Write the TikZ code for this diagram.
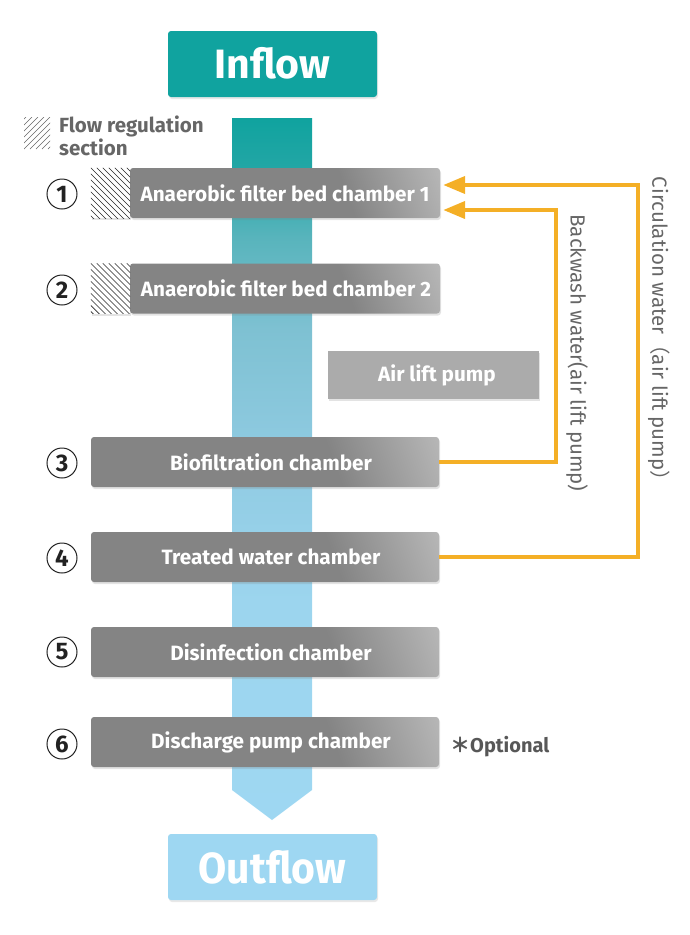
\documentclass[tikz,border=0pt]{standalone}
\usepackage{fontspec}
\setmainfont{Fira Sans}
\newfontfamily\cjk{Noto Sans CJK JP}
\usetikzlibrary{arrows.meta,shadows}
\definecolor{teal1}{HTML}{10A39F}
\definecolor{sky}{HTML}{9ED7F2}
\definecolor{s0}{HTML}{22A6A5}
\definecolor{s1}{HTML}{58B4BC}
\definecolor{s2}{HTML}{7EC1D2}
\definecolor{s3}{HTML}{90CBE2}
\definecolor{s4}{HTML}{9CD5EE}
\definecolor{orng}{HTML}{F4AF26}
\definecolor{cg1}{HTML}{848484}
\definecolor{cg2}{HTML}{BEBEBE}
\definecolor{airg}{HTML}{ABABAB}
\definecolor{txtg}{HTML}{666666}
\definecolor{numc}{HTML}{222222}
\pgfdeclarehorizontalshading{boxshade}{100bp}{color(0bp)=(cg1); color(62bp)=(cg1); color(85bp)=(cg2); color(100bp)=(cg2)}
\pgfdeclareverticalshading{stripeshade}{100bp}{color(0bp)=(sky); color(25bp)=(sky); color(40.6bp)=(s4); color(50.6bp)=(s3); color(60bp)=(s2); color(66.5bp)=(s1); color(71.5bp)=(s0); color(75bp)=(teal1); color(100bp)=(teal1)}
\begin{document}
\begin{tikzpicture}[x=1pt,y=-1pt,
  chamber/.style={rectangle, rounded corners=3pt, shading=boxshade, shading angle=20,
    minimum height=50pt, text=white, inner sep=0pt,
    font=\bfseries\fontsize{20.7}{24}\selectfont,
    drop shadow={shadow xshift=1pt, shadow yshift=-2pt, opacity=0.22}},
  hatchbox/.style={rectangle, fill=white, minimum width=39pt, minimum height=50pt, inner sep=0pt,
    drop shadow={shadow xshift=1pt, shadow yshift=-2pt, opacity=0.22}},
  endbox/.style={rectangle, rounded corners=3pt, minimum width=209pt, minimum height=66pt,
    text=white, inner sep=0pt,
    drop shadow={shadow xshift=1pt, shadow yshift=-2pt, opacity=0.18}},
  numcirc/.style={circle, draw=numc, line width=1pt, minimum size=30pt, inner sep=0pt,
    text=numc, font=\bfseries\fontsize{24}{26}\selectfont},
  flowline/.style={orng, line width=4pt},
  flowarrow/.style={flowline, -{Triangle[length=22pt,width=17pt]}},
  vlabel/.style={text=txtg, font=\fontsize{20.5}{24}\selectfont, rotate=-90, inner sep=0pt},
  hatchline/.style={black!85, line width=0.7pt}
]
\useasboundingbox (0,0) rectangle (690,935);

% central flow stripe
\path[shading=stripeshade] (232,118) -- (312,118) -- (312,790) -- (272,820) -- (232,790) -- cycle;

% inflow / outflow
\node[endbox, fill=teal1, font=\bfseries\fontsize{41}{46}\selectfont] (inflow) at (272.5,64) {\raisebox{3pt}{Inflow}};
\node[endbox, fill=sky, font=\bfseries\fontsize{43.5}{46}\selectfont] (outflow) at (272.5,867) {\scalebox{0.94}[1]{Outflow}};

% legend
\begin{scope}
  \clip (24,117) rectangle (50,149);
  \foreach \k in {-30,-24,...,26} {
    \draw[txtg, line width=0.7pt] (24+\k,149) -- ++(32,-32);
  }
\end{scope}
\node[anchor=north west, align=left, text=txtg, inner sep=0pt,
      font=\bfseries\fontsize{20.5}{16.5}\selectfont] (legend) at (59,116) {Flow regulation\\section};

% chambers
\node[hatchbox] (h1) at (110.5,193) {};
\node[chamber, minimum width=310pt] (c1) at (285,193) {Anaerobic filter bed chamber 1};
\node[hatchbox] (h2) at (110.5,288.5) {};
\node[chamber, minimum width=310pt] (c2) at (285,288.5) {\hspace*{2pt}Anaerobic filter bed chamber 2};
\node[rectangle, fill=airg, minimum width=211pt, minimum height=48pt, text=white, inner sep=0pt,
      font=\bfseries\fontsize{20.7}{24}\selectfont,
      drop shadow={shadow xshift=1pt, shadow yshift=-2pt, opacity=0.22}] (air) at (433.5,375) {\hspace*{7pt}Air lift pump};
\node[chamber, minimum width=348pt] (c3) at (265,462) {\hspace*{12pt}Biofiltration chamber};
\node[chamber, minimum width=348pt] (c4) at (265,557) {\hspace*{12pt}Treated water chamber};
\node[chamber, minimum width=348pt] (c5) at (265,652) {\hspace*{12pt}Disinfection chamber};
\node[chamber, minimum width=348pt] (c6) at (265,742) {\hspace*{12pt}Discharge pump chamber};

% hatching
\foreach \h in {h1,h2} {
  \begin{scope}
    \clip (\h.north west) rectangle (\h.south east);
    \foreach \k in {-54,-48,...,42} {
      \draw[hatchline] ([xshift=\k pt]\h.north west) -- ++(54,54);
    }
  \end{scope}
}

% numbers
\node[numcirc] (n1) at (62,194) {1};
\node[numcirc] (n2) at (62,290) {2};
\node[numcirc] (n3) at (62,463) {3};
\node[numcirc] (n4) at (62,558) {4};
\node[numcirc] (n5) at (62,652) {5};
\node[numcirc] (n6) at (62,744) {6};

% optional note
\node[anchor=west, text=txtg!85!black, inner sep=0pt, font=\bfseries\fontsize{20}{22}\selectfont] (opt) at (450,747) {{\cjk ＊}Optional};

% return flows
\coordinate (in1) at ([xshift=3pt,yshift=8pt]c1.east);
\coordinate (in2) at ([xshift=3pt,yshift=-17pt]c1.east);
\coordinate (circturn) at (638,185);
\coordinate (backturn) at (556,210);
\draw[flowarrow] (c4.east) -| (circturn) -- (in1);
\draw[flowarrow] (c3.east) -| (backturn) -- (in2);

\node[vlabel] (lcirc) at (659,334) {Circulation water{\cjk （}air lift pump{\cjk ）}};
\node[vlabel] (lback) at (577,353) {Backwash water(air lift pump)};
\end{tikzpicture}
\end{document}
